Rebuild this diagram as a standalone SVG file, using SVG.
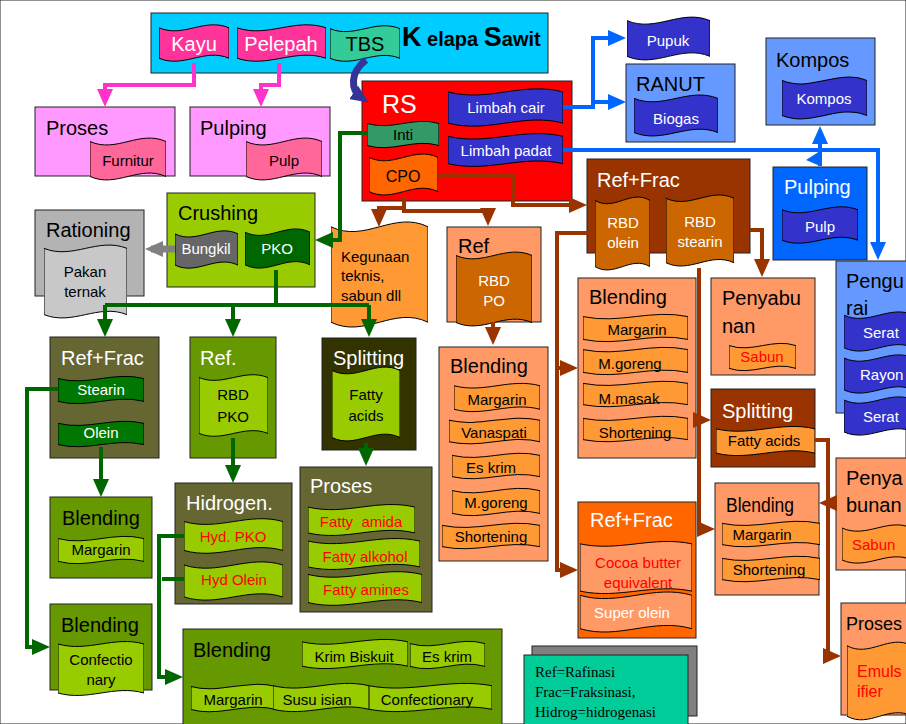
<svg xmlns="http://www.w3.org/2000/svg" width="906" height="724" viewBox="0 0 906 724">
<style>
text{font-family:"Liberation Sans",Arial,sans-serif;font-size:15px;fill:#000}
.h{font-size:20px}
.w{fill:#fff}
.r{fill:#ff0000}
.m{text-anchor:middle}
rect{stroke:#222;stroke-width:1}
use{stroke:#000;stroke-width:1}
.cg{fill:none;stroke:#006600;stroke-width:4}
.cb{fill:none;stroke:#993300;stroke-width:4}
.cl{fill:none;stroke:#0066ff;stroke-width:4}
.cp{fill:none;stroke:#ff33cc;stroke-width:4}
.cy{fill:none;stroke:#808080;stroke-width:7}
.cn{fill:none;stroke:#333399;stroke-width:7}
.leg{font-family:"Liberation Serif","Times New Roman",serif;font-size:15px}
</style>
<defs>
<symbol id="w" viewBox="0 0 100 100" preserveAspectRatio="none"><path vector-effect="non-scaling-stroke" d="M0,12 C35,38 65,-14 100,12 L100,88 C65,62 35,114 0,88 Z"/></symbol>
<symbol id="w2" viewBox="0 0 100 100" preserveAspectRatio="none"><path vector-effect="non-scaling-stroke" d="M0,7 C35,22 65,-8 100,7 L100,93 C65,78 35,108 0,93 Z"/></symbol>
<marker id="aG" viewBox="0 0 18 16" refX="12" refY="8" markerWidth="18" markerHeight="16" markerUnits="userSpaceOnUse" orient="auto"><path d="M0,0 L18,8 L0,16 Z" fill="#006600"/></marker>
<marker id="aB" viewBox="0 0 18 16" refX="12" refY="8" markerWidth="18" markerHeight="16" markerUnits="userSpaceOnUse" orient="auto"><path d="M0,0 L18,8 L0,16 Z" fill="#993300"/></marker>
<marker id="aL" viewBox="0 0 18 16" refX="12" refY="8" markerWidth="18" markerHeight="16" markerUnits="userSpaceOnUse" orient="auto"><path d="M0,0 L18,8 L0,16 Z" fill="#0066ff"/></marker>
<marker id="aP" viewBox="0 0 18 16" refX="12" refY="8" markerWidth="18" markerHeight="16" markerUnits="userSpaceOnUse" orient="auto"><path d="M0,0 L18,8 L0,16 Z" fill="#ff33cc"/></marker>
<marker id="aY" viewBox="0 0 18 16" refX="12" refY="8" markerWidth="18" markerHeight="16" markerUnits="userSpaceOnUse" orient="auto"><path d="M0,0 L18,8 L0,16 Z" fill="#808080"/></marker>
<marker id="aN" viewBox="0 0 18 16" refX="10" refY="8" markerWidth="18" markerHeight="16" markerUnits="userSpaceOnUse" orient="auto"><path d="M0,0 L18,8 L0,16 Z" fill="#333399"/></marker>
</defs>

<rect width="906" height="724" fill="#fff" stroke="none"/>

<g id="kelapa-sawit">
<rect x="151" y="13" width="397" height="60" fill="#00ccff"/>
<text x="402" y="46" font-weight="bold" class="h"><tspan style="font-size:27px">K</tspan> elapa <tspan style="font-size:27px">S</tspan>awit</text>
</g>
<g id="kayu"><use href="#w" x="159" y="23" width="70" height="40" fill="#ff3399"/><text x="194" y="51" class="h w m">Kayu</text></g>
<g id="pelepah"><use href="#w" x="237" y="23" width="89" height="40" fill="#ff3399"/><text x="281" y="51" class="h w m">Pelepah</text></g>
<g id="tbs"><use href="#w" x="330" y="24" width="70" height="39" fill="#33cc99"/><text x="365" y="51" class="h m">TBS</text></g>

<g id="proses-furnitur">
<rect x="35" y="107" width="140" height="69" fill="#ff99ff"/>
<text x="46" y="135" class="h">Proses</text>
<use href="#w" x="90" y="136" width="76" height="46" fill="#ff6699"/>
<text x="128" y="166" class="m">Furnitur</text>
</g>
<g id="pulping-pink">
<rect x="190" y="107" width="140" height="69" fill="#ff99ff"/>
<text x="200" y="135" class="h">Pulping</text>
<use href="#w" x="246" y="136" width="76" height="46" fill="#ff6699"/>
<text x="284" y="166" class="m">Pulp</text>
</g>

<g id="rs">
<rect x="362" y="81" width="210" height="120" fill="#ff0000"/>
<text x="382" y="113" class="w" style="font-size:25px">RS</text>
</g>
<g id="inti"><use href="#w" x="367" y="120" width="72" height="29" fill="#339966"/><text x="403" y="140" class="m">Inti</text></g>
<g id="cpo"><use href="#w" x="369" y="152" width="69" height="45" fill="#ff6600"/><text x="403" y="182" class="m" style="font-size:16px">CPO</text></g>
<g id="limbah-cair"><use href="#w" x="448" y="87" width="115" height="41" fill="#3333cc"/><text x="506" y="113" class="w m">Limbah cair</text></g>
<g id="limbah-padat"><use href="#w" x="448" y="132" width="115" height="36" fill="#3333cc"/><text x="506" y="156" class="w m">Limbah padat</text></g>

<g id="pupuk"><use href="#w" x="627" y="15" width="83" height="47" fill="#3333cc"/><text x="668" y="46" class="w m">Pupuk</text></g>
<g id="ranut">
<rect x="626" y="64" width="109" height="78" fill="#6699ff"/>
<text x="636" y="91" class="h">RANUT</text>
<use href="#w" x="634" y="93" width="84" height="45" fill="#3333cc"/>
<text x="676" y="124" class="w m">Biogas</text>
</g>
<g id="kompos">
<rect x="766" y="38" width="109" height="87" fill="#6699ff"/>
<text x="776" y="67" class="h">Kompos</text>
<use href="#w" x="782" y="75" width="85" height="46" fill="#3333cc"/>
<text x="824" y="104" class="w m">Kompos</text>
</g>
<g id="pulping-blue">
<rect x="773" y="167" width="94" height="93" fill="#0066ff"/>
<text x="784" y="194" class="h w">Pulping</text>
<use href="#w" x="782" y="205" width="76" height="40" fill="#3333cc"/>
<text x="820" y="232" class="w m">Pulp</text>
</g>
<g id="pengurai">
<rect x="836" y="261" width="80" height="152" fill="#6699ff"/>
<text x="846" y="288" class="h">Pengu</text>
<text x="846" y="315" class="h">rai</text>
<use href="#w" x="844" y="310" width="70" height="43" fill="#3333cc"/>
<text x="863" y="338" class="w">Serat</text>
<use href="#w" x="844" y="353" width="70" height="42" fill="#3333cc"/>
<text x="860" y="380" class="w">Rayon</text>
<use href="#w" x="844" y="395" width="70" height="42" fill="#3333cc"/>
<text x="863" y="422" class="w">Serat</text>
</g>

<g id="ref-frac-brown">
<rect x="587" y="159" width="163" height="94" fill="#993300"/>
<text x="597" y="187" class="h w">Ref+Frac</text>
</g>
<g id="rbd-olein"><use href="#w2" x="595" y="195" width="55" height="77" fill="#cc6600"/><text x="623" y="228" class="w m">RBD</text><text x="623" y="248" class="w m">olein</text></g>
<g id="rbd-stearin"><use href="#w2" x="666" y="193" width="68" height="75" fill="#cc6600"/><text x="700" y="227" class="w m">RBD</text><text x="700" y="247" class="w m">stearin</text></g>

<g id="kegunaan">
<use href="#w2" x="331" y="219" width="97" height="111" fill="#ff9933"/>
<text x="341" y="262">Kegunaan</text>
<text x="341" y="281">teknis,</text>
<text x="341" y="301">sabun dll</text>
</g>
<g id="ref-rbd-po">
<rect x="447" y="227" width="94" height="95" fill="#ff9966"/>
<text x="458" y="253" class="h">Ref</text>
<use href="#w2" x="456" y="250" width="76" height="78" fill="#cc6600"/>
<text x="494" y="286" class="w m">RBD</text>
<text x="494" y="306" class="w m">PO</text>
</g>
<g id="blending-po">
<rect x="439" y="347" width="109" height="214" fill="#ff9966"/>
<text x="450" y="373" class="h">Blending</text>
<use href="#w" x="454" y="382" width="86" height="31" fill="#ff9933"/><text x="497" y="405" class="m">Margarin</text>
<use href="#w" x="449" y="417" width="91" height="28" fill="#ff9933"/><text x="494" y="438" class="m">Vanaspati</text>
<use href="#w" x="452" y="452" width="88" height="28" fill="#ff9933"/><text x="491" y="473" class="m">Es krim</text>
<use href="#w" x="452" y="487" width="88" height="30" fill="#ff9933"/><text x="496" y="508" class="m">M.goreng</text>
<use href="#w" x="442" y="522" width="98" height="28" fill="#ff9933"/><text x="491" y="542" class="m">Shortening</text>
</g>
<g id="blending-olein">
<rect x="578" y="278" width="118" height="180" fill="#ff9966"/>
<text x="589" y="304" class="h">Blending</text>
<use href="#w" x="583" y="313" width="105" height="30" fill="#ff9933"/><text x="637" y="335" class="m">Margarin</text>
<use href="#w" x="583" y="346" width="105" height="30" fill="#ff9933"/><text x="630" y="369" class="m">M.goreng</text>
<use href="#w" x="583" y="380" width="105" height="28" fill="#ff9933"/><text x="629" y="404" class="m">M.masak</text>
<use href="#w" x="583" y="415" width="105" height="28" fill="#ff9933"/><text x="635" y="438" class="m">Shortening</text>
</g>
<g id="penyabunan-1">
<rect x="711" y="278" width="104" height="97" fill="#ff9966"/>
<text x="722" y="305" class="h">Penyabu</text>
<text x="722" y="333" class="h">nan</text>
<use href="#w" x="729" y="342" width="67" height="30" fill="#ff9933"/>
<text x="762" y="362" class="r m">Sabun</text>
</g>
<g id="splitting-brown">
<rect x="711" y="389" width="104" height="78" fill="#993300"/>
<text x="722" y="418" class="h w">Splitting</text>
<use href="#w" x="716" y="425" width="99" height="32" fill="#ff9933"/>
<text x="764" y="446" class="m">Fatty acids</text>
</g>
<g id="blending-stearin">
<rect x="715" y="483" width="104" height="112" fill="#ff9966"/>
<text x="726" y="512" class="h" textLength="68" lengthAdjust="spacingAndGlyphs">Blending</text>
<use href="#w" x="722" y="520" width="98" height="28" fill="#ff9933"/><text x="762" y="540" class="m">Margarin</text>
<use href="#w" x="722" y="555" width="98" height="28" fill="#ff9933"/><text x="769" y="575" class="m">Shortening</text>
</g>
<g id="penyabunan-2">
<rect x="836" y="458" width="80" height="112" fill="#ff9966"/>
<text x="846" y="485" class="h">Penya</text>
<text x="846" y="512" class="h">bunan</text>
<use href="#w" x="842" y="523" width="70" height="42" fill="#ff9933"/>
<text x="852" y="550" class="r">Sabun</text>
</g>
<g id="proses-emulsifier">
<rect x="841" y="603" width="75" height="112" fill="#ff9966"/>
<text x="846" y="630" style="font-size:18px">Proses</text>
<use href="#w2" x="847" y="640" width="65" height="82" fill="#ff9933"/>
<text x="857" y="677" class="r" style="font-size:16px">Emuls</text>
<text x="857" y="697" class="r" style="font-size:16px">ifier</text>
</g>
<g id="ref-frac-orange">
<rect x="578" y="502" width="118" height="136" fill="#ff6600"/>
<text x="590" y="527" class="h w">Ref+Frac</text>
<use href="#w2" x="580" y="540" width="112" height="55" fill="#ff9966"/>
<text x="638" y="568" class="r m">Cocoa butter</text>
<text x="638" y="588" class="r m">equivalent</text>
<use href="#w" x="580" y="590" width="112" height="44" fill="#ff9966"/>
<text x="632" y="618" class="w m">Super olein</text>
</g>

<g id="crushing">
<rect x="167" y="193" width="148" height="94" fill="#99cc00"/>
<text x="178" y="220" class="h">Crushing</text>
</g>
<g id="bungkil"><use href="#w" x="175" y="229" width="63" height="41" fill="#666666"/><text x="206" y="254" class="w m">Bungkil</text></g>
<g id="pko"><use href="#w" x="245" y="227" width="65" height="43" fill="#006600"/><text x="277" y="254" class="w m">PKO</text></g>
<g id="rationing">
<rect x="35" y="210" width="109" height="86" fill="#b3b3b3"/>
<text x="46" y="237" class="h">Rationing</text>
<use href="#w2" x="44" y="243" width="83" height="77" fill="#c8c8c8"/>
<text x="85" y="277" class="m">Pakan</text>
<text x="85" y="297" class="m">ternak</text>
</g>
<g id="ref-frac-green">
<rect x="50" y="337" width="109" height="121" fill="#666633"/>
<text x="61" y="365" class="h w">Ref+Frac</text>
<use href="#w" x="58" y="375" width="86" height="30" fill="#007700"/><text x="101" y="395" class="w m">Stearin</text>
<use href="#w" x="58" y="420" width="86" height="28" fill="#007700"/><text x="101" y="438" class="w m">Olein</text>
</g>
<g id="ref-rbd-pko">
<rect x="190" y="337" width="86" height="121" fill="#669900"/>
<text x="200" y="365" class="h w">Ref.</text>
<use href="#w2" x="199" y="373" width="69" height="65" fill="#99cc00"/>
<text x="233" y="400" class="m">RBD</text>
<text x="233" y="422" class="m">PKO</text>
</g>
<g id="splitting-green">
<rect x="322" y="338" width="94" height="112" fill="#333300"/>
<text x="333" y="365" class="h w">Splitting</text>
<use href="#w2" x="332" y="365" width="68" height="78" fill="#99cc00"/>
<text x="366" y="400" class="m">Fatty</text>
<text x="366" y="421" class="m">acids</text>
</g>
<g id="blending-margarin">
<rect x="50" y="497" width="102" height="81" fill="#669900"/>
<text x="62" y="525" class="h">Blending</text>
<use href="#w" x="58" y="535" width="86" height="30" fill="#99cc00"/>
<text x="101" y="555" class="m">Margarin</text>
</g>
<g id="hidrogen">
<rect x="175" y="483" width="117" height="121" fill="#666633"/>
<text x="186" y="510" class="h w">Hidrogen.</text>
<use href="#w" x="184" y="517" width="99" height="38" fill="#99cc00"/><text x="233" y="542" class="r m">Hyd. PKO</text>
<use href="#w" x="184" y="560" width="99" height="42" fill="#99cc00"/><text x="234" y="585" class="r m">Hyd Olein</text>
</g>
<g id="proses-fatty">
<rect x="300" y="467" width="132" height="145" fill="#666633"/>
<text x="310" y="493" class="h w">Proses</text>
<use href="#w" x="308" y="503" width="107" height="34" fill="#99cc00"/><text x="361" y="527" class="r m" xml:space="preserve">Fatty  amida</text>
<use href="#w" x="308" y="537" width="112" height="34" fill="#99cc00"/><text x="365" y="562" class="r m">Fatty alkohol</text>
<use href="#w" x="308" y="570" width="114" height="37" fill="#99cc00"/><text x="366" y="595" class="r m">Fatty amines</text>
</g>
<g id="blending-confectionary">
<rect x="50" y="604" width="102" height="86" fill="#669900"/>
<text x="61" y="632" class="h">Blending</text>
<use href="#w2" x="58" y="640" width="86" height="57" fill="#99cc00"/>
<text x="101" y="665" class="m">Confectio</text>
<text x="101" y="685" class="m">nary</text>
</g>
<g id="blending-big">
<rect x="183" y="629" width="319" height="100" fill="#669900"/>
<text x="193" y="657" class="h">Blending</text>
<use href="#w" x="302" y="638" width="106" height="32" fill="#99cc00"/><text x="354" y="662" class="m">Krim Biskuit</text>
<use href="#w" x="410" y="640" width="75" height="30" fill="#99cc00"/><text x="447" y="662" class="m">Es krim</text>
<use href="#w" x="191" y="683" width="85" height="30" fill="#99cc00"/><text x="233" y="705" class="m">Margarin</text>
<use href="#w" x="273" y="682" width="96" height="31" fill="#99cc00"/><text x="317" y="705" class="m">Susu isian</text>
<use href="#w" x="369" y="682" width="123" height="31" fill="#99cc00"/><text x="427" y="705" class="m">Confectionary</text>
</g>

<g id="legend">
<rect x="532" y="646" width="165" height="70" fill="#808080" stroke="none"/>
<rect x="524" y="655" width="164" height="75" fill="#00cc99" stroke="#000"/>
<text x="535" y="677" class="leg">Ref=Rafinasi</text>
<text x="535" y="697" class="leg">Frac=Fraksinasi,</text>
<text x="535" y="717" class="leg">Hidrog=hidrogenasi</text>
</g>

<g id="connectors">
<path class="cp" marker-end="url(#aP)" d="M194,63 V85 H105 V101"/>
<path class="cp" marker-end="url(#aP)" d="M279,63 V85 H261 V101"/>
<path class="cn" marker-end="url(#aN)" d="M366,60 C350,72 350,90 362,98"/>
<path class="cl" marker-end="url(#aL)" d="M563,107 H593 V38 H620"/>
<path class="cl" marker-end="url(#aL)" d="M593,102 H620"/>
<path class="cl" marker-end="url(#aL)" d="M563,150 H878 V254"/>
<path class="cl" marker-end="url(#aL)" d="M820,166 V132"/>
<polygon points="806,160 820,151 820,166" fill="#0066ff"/>
<path class="cb" marker-end="url(#aB)" d="M438,176 H513 V205 H581"/>
<path class="cb" marker-end="url(#aB)" d="M404,197 V211 H488 V220"/>
<path class="cb" marker-end="url(#aB)" d="M404,208 H379 V221"/>
<path class="cb" marker-end="url(#aB)" d="M493,322 V339"/>
<path class="cb" marker-end="url(#aB)" d="M588,233 H557 V570 H572"/>
<path class="cb" marker-end="url(#aB)" d="M557,368 H572"/>
<path class="cb" marker-end="url(#aB)" d="M750,230 H762 V271"/>
<path class="cb" marker-end="url(#aB)" d="M699,268 V529 H709"/>
<path class="cb" marker-end="url(#aB)" d="M699,420 H705"/>
<path class="cb" marker-end="url(#aB)" d="M815,440 H828 V656 H835"/>
<path class="cb" marker-end="url(#aB)" d="M828,503 H825"/>
<path class="cg" marker-end="url(#aG)" d="M367,133 H340 V240 H321"/>
<path class="cg" d="M276,270 V305 M105,305 H369"/>
<path class="cg" marker-end="url(#aG)" d="M105,305 V331"/>
<path class="cg" marker-end="url(#aG)" d="M233,305 V331"/>
<path class="cg" marker-end="url(#aG)" d="M369,305 V331"/>
<path class="cg" marker-end="url(#aG)" d="M101,447 V491"/>
<path class="cg" marker-end="url(#aG)" d="M58,389 H27 V647 H44"/>
<path class="cg" marker-end="url(#aG)" d="M233,438 V477"/>
<path class="cg" marker-end="url(#aG)" d="M366,443 V460"/>
<path class="cg" marker-end="url(#aG)" d="M184,536 H159 V677 H177"/>
<path class="cg" d="M184,579 H162"/>
<path class="cy" marker-end="url(#aY)" d="M175,249 H151"/>
</g>
</svg>
